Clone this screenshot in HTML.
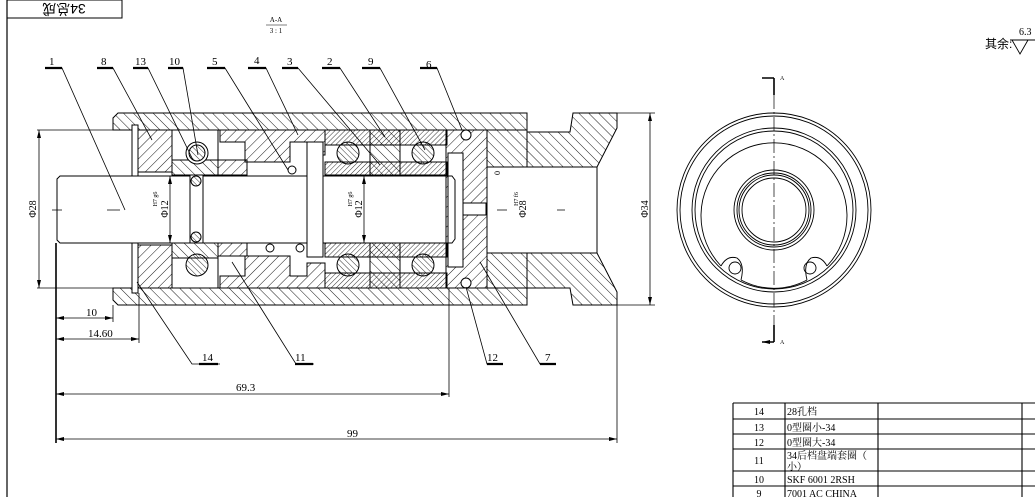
<!DOCTYPE html>
<html><head><meta charset="utf-8"><style>
html,body{margin:0;padding:0;background:#fff;}
svg{display:block;}
text{font-family:"Liberation Serif","Noto Serif CJK SC",serif;fill:#000;}
.cj{font-family:"Liberation Sans","Noto Sans CJK SC",sans-serif;}
</style></head><body>
<svg width="1035" height="497" viewBox="0 0 1035 497" xmlns="http://www.w3.org/2000/svg">
<defs>
<pattern id="h1" patternUnits="userSpaceOnUse" width="7" height="7" patternTransform="rotate(45)"><line x1="0" y1="0" x2="0" y2="7" stroke="#000" stroke-width="0.9"/></pattern>
<pattern id="h2" patternUnits="userSpaceOnUse" width="7" height="7" patternTransform="rotate(-45)"><line x1="0" y1="0" x2="0" y2="7" stroke="#000" stroke-width="0.9"/></pattern>
<pattern id="h3" patternUnits="userSpaceOnUse" width="3.5" height="3.5" patternTransform="rotate(45)"><line x1="0" y1="0" x2="0" y2="3.5" stroke="#000" stroke-width="0.8"/></pattern>
<pattern id="h4" patternUnits="userSpaceOnUse" width="4" height="4" patternTransform="rotate(-45)"><line x1="0" y1="0" x2="0" y2="4" stroke="#000" stroke-width="0.8"/></pattern>
<marker id="ar" markerWidth="8" markerHeight="6" refX="8" refY="3" orient="auto-start-reverse" markerUnits="userSpaceOnUse"><path d="M0,1 L8,3 L0,5 z" fill="#000"/></marker>
</defs>
<g stroke="#000" fill="none" stroke-width="1">
<!-- border & title -->
<line x1="7" y1="0" x2="7" y2="497" stroke-width="1.2"/>
<rect x="7" y="0" width="115" height="18"/>
<!-- housing -->
<path d="M118,113 H527 V130 H113 V118 Z" fill="url(#h2)"/>
<path d="M113,288 H527 V305 H118 L113,300 Z" fill="url(#h2)"/>
<path d="M487,130 H527 V167 H487 Z" fill="url(#h2)"/>
<path d="M487,253 H527 V288 H487 Z" fill="url(#h2)"/>
<!-- nose -->
<path d="M527,132 H570 L573,113 H617 V128 L597,167 H527 Z" fill="url(#h2)"/>
<path d="M527,288 H570 L573,305 H617 V292 L597,253 H527 Z" fill="url(#h2)"/>
<line x1="527" y1="167" x2="597" y2="167"/><line x1="527" y1="253" x2="597" y2="253"/>
<line x1="597" y1="167" x2="597" y2="253"/>
<!-- part 8 -->
<rect x="138" y="130" width="34" height="42" fill="url(#h1)"/>
<rect x="138" y="245" width="34" height="43" fill="url(#h1)"/>
<!-- snap ring 14 -->
<rect x="132" y="125" width="6" height="168" fill="#fff"/>
<!-- shaft -->
<path d="M60,176 H452 L455,180 V239 L452,243 H60 L57,240 V179 Z" fill="#fff"/>
<!-- bearing 10 -->
<rect x="172" y="130" width="46" height="45" fill="#fff"/>
<rect x="172" y="243" width="46" height="45" fill="#fff"/>
<rect x="172" y="160" width="46" height="15" fill="url(#h2)"/>
<rect x="172" y="243" width="46" height="15" fill="url(#h2)"/>
<circle cx="197" cy="153" r="11" fill="#fff"/><circle cx="197" cy="153" r="8" fill="url(#h4)"/>
<circle cx="197" cy="265" r="11" fill="url(#h4)"/>
<rect x="190" y="175" width="13" height="68" fill="#fff"/>
<circle cx="196" cy="181" r="5" fill="url(#h4)"/><circle cx="196" cy="237" r="5" fill="url(#h4)"/>
<!-- sleeve 5 -->
<rect x="218" y="160" width="29" height="15" fill="url(#h1)"/>
<rect x="218" y="243" width="29" height="13" fill="url(#h1)"/>
<!-- spacer 4 -->
<path d="M220,130 H325 V155 H307 V142 H290 V162 H245 V142 H220 Z" fill="url(#h1)"/>
<path d="M220,288 H325 V263 H307 V276 H290 V256 H245 V276 H220 Z" fill="url(#h1)"/>
<circle cx="292" cy="170" r="4"/><circle cx="270" cy="248" r="4"/><circle cx="300" cy="248" r="4"/>
<rect x="307" y="142" width="16" height="115" fill="#fff"/>
<!-- bearings 9 -->
<rect x="325" y="130" width="122" height="15" fill="url(#h3)"/>
<rect x="325" y="162" width="122" height="13" fill="url(#h3)"/>
<rect x="325" y="243" width="122" height="14" fill="url(#h3)"/>
<rect x="325" y="273" width="122" height="15" fill="url(#h3)"/>
<rect x="370" y="130" width="30" height="45" fill="url(#h2)"/>
<rect x="370" y="243" width="30" height="45" fill="url(#h2)"/>
<circle cx="348" cy="153" r="11" fill="url(#h4)"/><circle cx="423" cy="153" r="11" fill="url(#h4)"/>
<circle cx="348" cy="265" r="11" fill="url(#h4)"/><circle cx="423" cy="265" r="11" fill="url(#h4)"/>
<!-- part 7 -->
<path d="M446,130 H487 V288 H446 Z M448,153 V267 H463 V153 Z" fill="url(#h1)" fill-rule="evenodd"/>
<rect x="463" y="203" width="23" height="12" fill="#fff"/>
<circle cx="466" cy="135" r="5" fill="#fff"/><circle cx="466" cy="283" r="5" fill="#fff"/>
<!-- centerline marks -->
<path d="M52,210 H62 M107,210 H120 M557,210 H565 M497,210 H507" stroke-width="0.7"/>
<!-- leaders top -->
<g stroke-width="0.8">
<path d="M45,68 H62 L125,210"/><path d="M97,68 H113 L152,140"/><path d="M133,68 H148 L193,160"/>
<path d="M168,68 H183 L198,155"/><path d="M207,68 H225 L288,170"/><path d="M248,68 H266 L298,135"/>
<path d="M282,68 H298 L380,165"/><path d="M322,68 H340 L385,137"/><path d="M362,68 H380 L425,150"/>
<path d="M420,68 H437 L462,130"/>
<path d="M137,282 L192,364 H220"/><path d="M232,262 L296,364 H314"/><path d="M466,287 L487,364 H503"/><path d="M480,262 L540,364 H556"/>
</g>
<g stroke-width="2.2"><path d="M45,68H62M97,68H113M133,68H148M168,68H183M207,68H225M248,68H266M282,68H298M322,68H340M362,68H380M420,68H437M199,364H218M295,364H313M487,364H503M540,364H556"/></g>
<!-- dims -->
<g stroke-width="0.8">
<line x1="56" y1="243" x2="56" y2="443" stroke-width="1.6"/>
<line x1="113" y1="305" x2="113" y2="322"/><line x1="139" y1="293" x2="139" y2="343"/>
<line x1="449" y1="288" x2="449" y2="397"/><line x1="617" y1="305" x2="617" y2="443"/>
<line x1="56" y1="318" x2="113" y2="318" marker-start="url(#ar)" marker-end="url(#ar)"/>
<line x1="56" y1="339" x2="139" y2="339" marker-start="url(#ar)" marker-end="url(#ar)"/>
<line x1="56" y1="394" x2="449" y2="394" marker-start="url(#ar)" marker-end="url(#ar)"/>
<line x1="56" y1="439" x2="617" y2="439" marker-start="url(#ar)" marker-end="url(#ar)"/>
<line x1="37" y1="130" x2="113" y2="130"/><line x1="37" y1="288" x2="113" y2="288"/>
<line x1="39" y1="130" x2="39" y2="288" marker-start="url(#ar)" marker-end="url(#ar)"/>
<line x1="617" y1="113" x2="655" y2="113"/><line x1="617" y1="305" x2="655" y2="305"/>
<line x1="650" y1="113" x2="650" y2="305" marker-start="url(#ar)" marker-end="url(#ar)"/>
<line x1="170" y1="176" x2="170" y2="243" marker-start="url(#ar)" marker-end="url(#ar)"/>
<line x1="364" y1="176" x2="364" y2="243" marker-start="url(#ar)" marker-end="url(#ar)"/>
</g>
<!-- end view -->
<g stroke-width="0.9">
<circle cx="774" cy="210" r="97"/><circle cx="774" cy="210" r="94"/>
<circle cx="774" cy="210" r="82"/><circle cx="774" cy="210" r="79"/>
<path d="M721,266 A73,73 0 1 1 827,266"/>
<path d="M721,266 Q727,255 737,258 Q745,264 741,280"/>
<path d="M827,266 Q821,255 811,258 Q803,264 807,280"/>
<path d="M741,280 A70,70 0 0 0 807,280"/>
<circle cx="735" cy="268" r="6"/><circle cx="810" cy="268" r="6"/>
<circle cx="774" cy="210" r="40"/><circle cx="774" cy="210" r="37"/><circle cx="774" cy="210" r="35"/><circle cx="774" cy="210" r="32"/>
<line x1="774" y1="95" x2="774" y2="325" stroke-dasharray="14,3,2,3" stroke-width="0.7"/>
<path d="M774,78 V95 M774,325 V342" stroke-width="1.6"/>
<path d="M774,78 H762 M774,342 H762" stroke-width="1.4" marker-end="url(#ar)"/>
<path d="M1012,40 L1020,54 L1028,40 M1010,40 H1035"/>
</g>
<!-- table -->
<g stroke-width="1.1">
<path d="M733,403 H1035 M733,419 H1035 M733,434 H1035 M733,449 H1035 M733,471 H1035 M733,486 H1035"/>
<path d="M733,403 V497 M785,403 V497 M878,403 V497 M1022,403 V497"/>
</g>
</g>
<!-- texts -->
<text x="64" y="14" font-size="14" class="cj" text-anchor="middle" transform="rotate(180 64 9)">34总成</text>
<text x="276" y="22" font-size="7" text-anchor="middle">A-A</text>
<line x1="266" y1="25" x2="287" y2="25" stroke="#000" stroke-width="0.6"/>
<text x="276" y="33" font-size="7" text-anchor="middle">3 : 1</text>
<g font-size="11">
<text x="49" y="65">1</text><text x="101" y="65">8</text><text x="135" y="65">13</text><text x="169" y="65">10</text>
<text x="212" y="65">5</text><text x="254" y="64">4</text><text x="287" y="65">3</text><text x="327" y="65">2</text>
<text x="368" y="65">9</text><text x="426" y="68">6</text>
<text x="202" y="361">14</text><text x="295" y="361">11</text><text x="487" y="361">12</text><text x="545" y="361">7</text>
<text x="86" y="316">10</text><text x="88" y="337">14.60</text><text x="236" y="391">69.3</text><text x="347" y="437">99</text>
</g>
<text font-size="10" transform="translate(36,209) rotate(-90)" text-anchor="middle">Φ28</text>
<text font-size="10" transform="translate(648,209) rotate(-90)" text-anchor="middle">Φ34</text>
<text font-size="10" transform="translate(168,209) rotate(-90)" text-anchor="middle">Φ12</text>
<text font-size="10" transform="translate(362,209) rotate(-90)" text-anchor="middle">Φ12</text>
<text font-size="10" transform="translate(526,209) rotate(-90)" text-anchor="middle">Φ28</text>
<text font-size="6" transform="translate(157,199) rotate(-90)" text-anchor="middle">H7 g6</text>
<text font-size="6" transform="translate(352,199) rotate(-90)" text-anchor="middle">H7 g6</text>
<text font-size="6" transform="translate(518,199) rotate(-90)" text-anchor="middle">H7 f6</text>
<text font-size="8" transform="translate(500,175) rotate(-90)">0</text>
<text x="780" y="80" font-size="6">A</text><text x="780" y="344" font-size="6">A</text>
<text x="985" y="48" font-size="12" class="cj">其余:</text>
<text x="1019" y="35" font-size="10">6.3</text>
<g font-size="10" class="cj">
<text x="759" y="415" text-anchor="middle">14</text><text x="787" y="415">28孔档</text>
<text x="759" y="431" text-anchor="middle">13</text><text x="787" y="431">0型圈小-34</text>
<text x="759" y="446" text-anchor="middle">12</text><text x="787" y="446">0型圈大-34</text>
<text x="759" y="464" text-anchor="middle">11</text><text x="787" y="459">34后档盘端套圈（</text><text x="787" y="470">小）</text>
<text x="759" y="483" text-anchor="middle">10</text><text x="787" y="483">SKF 6001  2RSH</text>
<text x="759" y="497" text-anchor="middle">9</text><text x="787" y="497">7001 AC    CHINA</text>
</g>
</svg>
</body></html>
